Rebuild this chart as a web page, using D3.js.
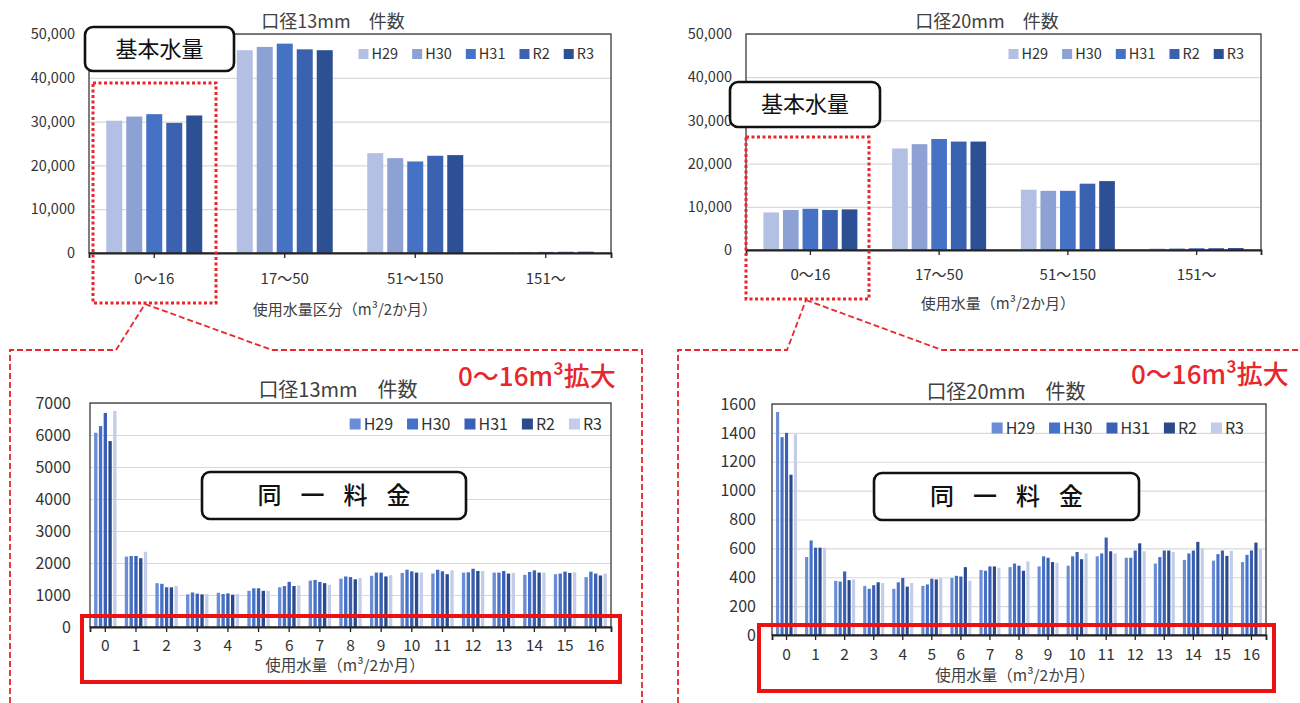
<!DOCTYPE html>
<html>
<head>
<meta charset="UTF-8">
<script src="https://cdn.jsdelivr.net/npm/d3@7"></script>
<style>
body{margin:0;background:#fff;}
text{font-family:"Noto Sans CJK JP","Noto Sans",sans-serif;}
</style>
</head>
<body>
<script>

// ---- data ----
var years = ["H29", "H30", "H31", "R2", "R3"];
var ranges = ["0～16", "17～50", "51～150", "151～"];
var usage = ["0","1","2","3","4","5","6","7","8","9","10","11","12","13","14","15","16"];

// 口径13mm 件数 (by range)
var t13H29 = [30200, 46300, 22800, 150];
var t13H30 = [31150, 47050, 21650, 200];
var t13H31 = [31700, 47800, 20900, 250];
var t13R2  = [29700, 46500, 22200, 280];
var t13R3  = [31400, 46300, 22350, 300];

// 口径20mm 件数 (by range)
var t20H29 = [8700, 23500, 13950, 350];
var t20H30 = [9250, 24500, 13700, 400];
var t20H31 = [9550, 25700, 13700, 420];
var t20R2  = [9250, 25100, 15350, 430];
var t20R3  = [9400, 25100, 15950, 450];

// 口径13mm 0～16m3 by usage
var b13H29 = [6070,2200,1370,1020,1070,1130,1240,1450,1510,1600,1690,1670,1700,1700,1630,1650,1560];
var b13H30 = [6280,2220,1350,1080,1030,1210,1280,1470,1580,1700,1790,1790,1710,1700,1720,1670,1730];
var b13H31 = [6690,2220,1240,1040,1050,1210,1410,1410,1560,1700,1740,1740,1820,1750,1770,1730,1670];
var b13R2  = [5810,2150,1240,1020,1010,1130,1280,1370,1490,1580,1700,1650,1750,1670,1700,1690,1610];
var b13R3  = [6750,2350,1280,1030,1030,1130,1300,1320,1530,1620,1700,1770,1750,1690,1700,1710,1670];

// 口径20mm 0～16m3 by usage
var b20H29 = [1545,540,375,340,320,340,395,450,470,475,480,545,535,495,520,515,505];
var b20H30 = [1370,655,370,320,365,350,410,445,495,545,545,565,535,540,565,560,555];
var b20H31 = [1400,605,440,345,395,390,405,475,480,535,575,675,585,585,585,585,585];
var b20R2  = [1110,605,380,365,335,385,470,475,445,505,525,580,635,585,645,548,640];
var b20R3  = [1390,605,385,360,360,395,375,465,510,500,565,565,580,575,600,583,595];

var topColors = ["#b4c0e3", "#8da1d4", "#4672c6", "#3b62b0", "#2d4f93"];
var botColors = ["#6b8dd6", "#4572c8", "#3a5fb6", "#2a4a8c", "#c3cde9"];

var red = "#e8262b";

var svg = d3.select("body").append("svg")
    .attr("width", 1300)
    .attr("height", 703);

function drawPanel(c) {
    var g = svg.append("g");

    var x = d3.scaleBand().domain(c.cats).range([c.x0, c.x1]);
    var bw = x.bandwidth();
    var xi = d3.scaleBand().domain(years)
        .range([(bw - c.groupW) / 2, (bw + c.groupW) / 2])
        .paddingInner(c.padInner);
    var y = d3.scaleLinear().domain([0, c.yMax]).range([c.y1, c.y0]);

    // gridlines + y labels
    var ya = g.append("g")
        .attr("transform", "translate(" + c.x0 + ",0)")
        .call(d3.axisLeft(y)
            .tickValues(d3.range(0, c.yMax + 1, c.yStep))
            .tickSize(-(c.x1 - c.x0))
            .tickFormat(c.fmt));
    ya.select(".domain").remove();
    ya.selectAll(".tick line").attr("stroke", "#d9d9d9").attr("stroke-width", 1.2);
    ya.selectAll(".tick text")
        .attr("x", -c.yLabelGap)
        .attr("fill", "#333")
        .style("font-size", c.yLabelSize + "px");

    // bars
    var rows = c.cats.map(function(cat, i) {
        return {cat: cat, vals: years.map(function(yr, j) { return {yr: yr, j: j, v: c.series[j][i]}; })};
    });
    g.selectAll(".grp")
        .data(rows)
        .enter().append("g")
        .attr("transform", function(d) { return "translate(" + x(d.cat) + ",0)"; })
        .selectAll("rect")
        .data(function(d) { return d.vals; })
        .enter().append("rect")
        .attr("x", function(d) { return xi(d.yr); })
        .attr("width", xi.bandwidth())
        .attr("y", function(d) { return y(d.v); })
        .attr("height", function(d) { return y(0) - y(d.v); })
        .attr("fill", function(d) { return c.colors[d.j]; });

    // frame
    g.append("rect")
        .attr("x", c.x0).attr("y", c.y0)
        .attr("width", c.x1 - c.x0).attr("height", c.y1 - c.y0)
        .attr("fill", "none").attr("stroke", "#3a3a3a").attr("stroke-width", 1.3);

    // x axis
    var xa = g.append("g")
        .attr("transform", "translate(0," + c.y1 + ")")
        .call(d3.axisBottom(x).tickSize(5).tickSizeOuter(5));
    xa.select(".domain").attr("stroke", "#222").attr("stroke-width", 1.8);
    xa.selectAll(".tick line").attr("stroke", "#222").attr("stroke-width", 1.3);
    xa.selectAll(".tick text")
        .attr("y", c.catGap).attr("dy", "0.35em")
        .attr("fill", "#333")
        .style("font-size", c.catSize + "px");

    // title
    g.append("text")
        .attr("x", c.titleX).attr("y", c.titleY)
        .attr("text-anchor", "middle").attr("dy", "0.35em")
        .attr("fill", "#404040")
        .style("font-size", c.titleSize + "px")
        .text(c.title);

    // axis title
    g.append("text")
        .attr("x", c.axisTitleX).attr("y", c.axisTitleY)
        .attr("text-anchor", "middle").attr("dy", "0.35em")
        .attr("fill", "#404040")
        .style("font-size", c.axisTitleSize + "px")
        .text(c.axisTitle);

    // legend, right aligned
    var lg = g.append("g");
    var items = lg.selectAll("g").data(years).enter().append("g");
    items.append("rect")
        .attr("width", c.legSq).attr("height", c.legSq)
        .attr("y", -c.legSq / 2)
        .attr("fill", function(d, i) { return c.colors[i]; });
    items.append("text")
        .attr("x", c.legSq + 3).attr("dy", "0.35em")
        .attr("fill", "#333")
        .style("font-size", c.legSize + "px")
        .text(function(d) { return d; });
    var pos = 0;
    items.each(function() {
        var w = c.legSq + 3 + d3.select(this).select("text").node().getComputedTextLength();
        d3.select(this).attr("transform", "translate(" + pos + ",0)");
        pos += w + c.legGap;
    });
    lg.attr("transform", "translate(" + (c.legRight - (pos - c.legGap)) + "," + c.legY + ")");
}

var fmtComma = d3.format(",");
var fmtPlain = d3.format("d");

drawPanel({
    cats: ranges, series: [t13H29, t13H30, t13H31, t13R2, t13R3], colors: topColors,
    x0: 89, x1: 611, y0: 34, y1: 253, yMax: 50000, yStep: 10000, fmt: fmtComma,
    groupW: 96, padInner: 0.2, yLabelGap: 14, yLabelSize: 14.5,
    catGap: 26, catSize: 15,
    title: "口径13mm　件数", titleX: 333, titleY: 22, titleSize: 18,
    axisTitle: "使用水量区分（m³/2か月）", axisTitleX: 345, axisTitleY: 310, axisTitleSize: 15,
    legSq: 10, legSize: 14.5, legGap: 14, legRight: 594, legY: 54
});

drawPanel({
    cats: ranges, series: [t20H29, t20H30, t20H31, t20R2, t20R3], colors: topColors,
    x0: 746, x1: 1261, y0: 34, y1: 250, yMax: 50000, yStep: 10000, fmt: fmtComma,
    groupW: 94, padInner: 0.2, yLabelGap: 14, yLabelSize: 14.5,
    catGap: 25, catSize: 15,
    title: "口径20mm　件数", titleX: 987, titleY: 22, titleSize: 18,
    axisTitle: "使用水量（m³/2か月）", axisTitleX: 998, axisTitleY: 304, axisTitleSize: 15,
    legSq: 10, legSize: 14.5, legGap: 14, legRight: 1244, legY: 54
});

drawPanel({
    cats: usage, series: [b13H29, b13H30, b13H31, b13R2, b13R3], colors: botColors,
    x0: 90, x1: 611, y0: 403, y1: 627, yMax: 7000, yStep: 1000, fmt: fmtPlain,
    groupW: 22.4, padInner: 0.3, yLabelGap: 19, yLabelSize: 16,
    catGap: 19, catSize: 15.5,
    title: "口径13mm　件数", titleX: 338, titleY: 390, titleSize: 20,
    axisTitle: "使用水量（m³/2か月）", axisTitleX: 345, axisTitleY: 666, axisTitleSize: 15.5,
    legSq: 11, legSize: 16, legGap: 14, legRight: 602, legY: 424
});

drawPanel({
    cats: usage, series: [b20H29, b20H30, b20H31, b20R2, b20R3], colors: botColors,
    x0: 772, x1: 1266, y0: 404, y1: 635, yMax: 1600, yStep: 200, fmt: fmtPlain,
    groupW: 21, padInner: 0.3, yLabelGap: 16, yLabelSize: 16,
    catGap: 20, catSize: 15.5,
    title: "口径20mm　件数", titleX: 1006, titleY: 392, titleSize: 20,
    axisTitle: "使用水量（m³/2か月）", axisTitleX: 1015, axisTitleY: 676, axisTitleSize: 15.5,
    legSq: 11, legSize: 16, legGap: 14, legRight: 1244, legY: 428
});

// ---- annotations ----
function labelBox(x0, y0, x1, y1, txt, size, spacing, weight) {
    svg.append("rect")
        .attr("x", x0).attr("y", y0)
        .attr("width", x1 - x0).attr("height", y1 - y0)
        .attr("rx", 8).attr("ry", 8)
        .attr("fill", "#fff").attr("stroke", "#111").attr("stroke-width", 2.6);
    svg.append("text")
        .attr("x", (x0 + x1) / 2 + spacing / 2).attr("y", (y0 + y1) / 2)
        .attr("text-anchor", "middle").attr("dy", "0.36em")
        .attr("fill", "#111")
        .style("font-size", size + "px")
        .style("font-weight", weight)
        .style("letter-spacing", spacing + "px")
        .text(txt);
}

labelBox(85, 27, 234, 71, "基本水量", 22, 0, 400);
labelBox(730, 82, 880, 127, "基本水量", 22, 0, 400);
labelBox(202, 472, 466, 519, "同一料金", 24, 19, 500);
labelBox(874, 473, 1139, 520, "同一料金", 24, 19, 500);

// dotted selection boxes
[[93, 83, 216, 303], [746, 137, 869, 299]].forEach(function(b) {
    svg.append("rect")
        .attr("x", b[0]).attr("y", b[1])
        .attr("width", b[2] - b[0]).attr("height", b[3] - b[1])
        .attr("fill", "none").attr("stroke", red)
        .attr("stroke-width", 3).attr("stroke-dasharray", "3,2.5");
});

// dashed zoom outlines
var line = d3.line();
[
    [[10, 703], [10, 350], [116, 350], [145, 304]],
    [[145, 304], [272, 350], [642, 350], [642, 703]],
    [[678, 703], [678, 350], [787, 350], [806, 300]],
    [[806, 300], [942, 350], [1299, 350]]
].forEach(function(p) {
    svg.append("path")
        .attr("d", line(p))
        .attr("fill", "none").attr("stroke", red)
        .attr("stroke-width", 1.8).attr("stroke-dasharray", "6,3");
});

// solid red boxes around x axes
[[82, 616, 620, 682], [759, 625, 1274, 691]].forEach(function(b) {
    svg.append("rect")
        .attr("x", b[0]).attr("y", b[1])
        .attr("width", b[2] - b[0]).attr("height", b[3] - b[1])
        .attr("fill", "none").attr("stroke", "#ee1111").attr("stroke-width", 4);
});

// red zoom labels
[[458, 377], [1131, 375]].forEach(function(p) {
    svg.append("text")
        .attr("x", p[0]).attr("y", p[1]).attr("dy", "0.36em")
        .attr("fill", red)
        .style("font-size", "26px")
        .style("font-weight", 500)
        .text("0～16m³拡大");
});

</script>
</body>
</html>
